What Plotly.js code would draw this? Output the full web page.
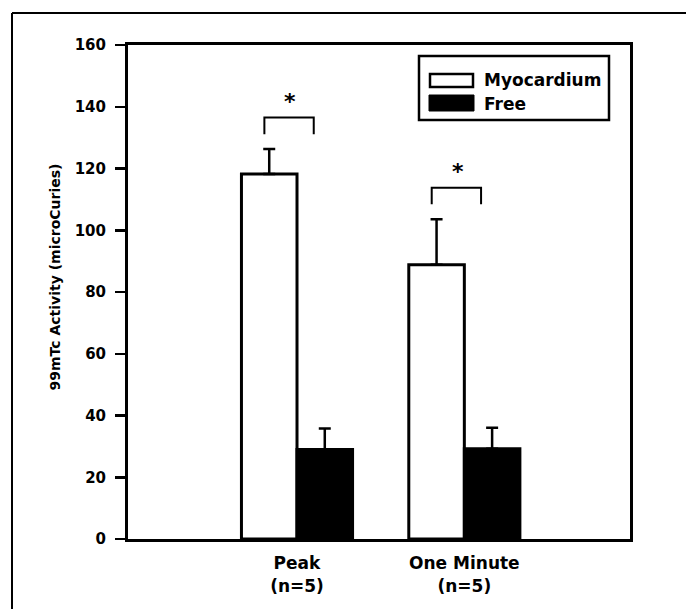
<!DOCTYPE html>
<html><head><meta charset="utf-8">
<script src="https://cdn.plot.ly/plotly-3.0.1.min.js"></script>
<style>html,body{margin:0;padding:0;background:#fff;overflow:hidden}#chart{width:686px;height:609px}</style>
</head><body><div id="chart"></div>
<script>
// ---- data ----
const categories = ['Peak<br>(n=5)', 'One Minute<br>(n=5)'];
const seriesNames = ['Myocardium', 'Free'];
const myocardium = [118.2, 88.8];
const myocardiumErr = [8.1, 14.8];
const free = [29.0, 29.2];
const freeErr = [6.8, 6.8];
const yTickVals = [0, 20, 40, 60, 80, 100, 120, 140, 160];
const yTitle = '99mTc Activity (microCuries)';
const sigMark = '*';

// ---- geometry helpers (layout only) ----
const M = {l: 128, r: 56, t: 45, b: 70};
const W = 686, H = 609;
const PW = W - M.l - M.r, PH = H - M.t - M.b;
const px = x => (x - M.l) / PW;
const py = y => (H - M.b - y) / PH;

const FONT = 'DejaVu Sans';
const black = '#000';

const traces = [
  {type: 'bar', name: seriesNames[0], x: categories, y: myocardium,
   marker: {color: '#fff', line: {color: black, width: 3}},
   error_y: {type: 'data', symmetric: false, array: myocardiumErr, arrayminus: myocardium.map(() => 0),
             color: black, thickness: 2.5, width: 6}},
  {type: 'bar', name: seriesNames[1], x: categories, y: free,
   marker: {color: black, line: {color: black, width: 3}},
   error_y: {type: 'data', symmetric: false, array: freeErr, arrayminus: free.map(() => 0),
             color: black, thickness: 2.5, width: 6}}
];

const shapes = [];
const annotations = [];

// significance brackets, placed relative to the myocardium error-bar tops
categories.forEach((c, i) => {
  const top = myocardium[i] + myocardiumErr[i];
  const x0 = i - 0.195, x1 = i + 0.10;
  shapes.push({type: 'path', xref: 'x', yref: 'y',
    path: `M ${x0} ${top + 4.8} L ${x0} ${top + 10.2} L ${x1} ${top + 10.2} L ${x1} ${top + 4.8}`,
    line: {color: black, width: 2}});
  annotations.push({xref: 'x', yref: 'y', x: i - 0.04, y: top + 15.5, text: sigMark, showarrow: false,
    xanchor: 'center', yanchor: 'middle', font: {family: FONT, size: 22, color: black, weight: 700}});
});

// legend drawn by hand
shapes.push({type: 'rect', xref: 'paper', yref: 'paper', x0: px(419), x1: px(609), y0: py(120), y1: py(56),
  line: {color: black, width: 2.5}, fillcolor: 'rgba(0,0,0,0)'});
shapes.push({type: 'rect', xref: 'paper', yref: 'paper', x0: px(430), x1: px(473), y0: py(87), y1: py(74),
  line: {color: black, width: 2.5}, fillcolor: '#fff'});
shapes.push({type: 'rect', xref: 'paper', yref: 'paper', x0: px(429), x1: px(474), y0: py(111), y1: py(95),
  line: {color: black, width: 1}, fillcolor: black});
annotations.push({xref: 'paper', yref: 'paper', x: px(482), y: py(80), text: seriesNames[0], showarrow: false,
  xanchor: 'left', yanchor: 'middle', font: {family: FONT, size: 17, color: black, weight: 700}});
annotations.push({xref: 'paper', yref: 'paper', x: px(482), y: py(103.5), text: seriesNames[1], showarrow: false,
  xanchor: 'left', yanchor: 'middle', font: {family: FONT, size: 17, color: black, weight: 700}});

// y-axis title
annotations.push({xref: 'paper', yref: 'paper', x: px(54), y: py(277.5), text: yTitle, showarrow: false,
  textangle: -90, xanchor: 'center', yanchor: 'middle', font: {family: FONT, size: 14, color: black, weight: 700}});

// outer figure frame (top and left edges visible)
shapes.push({type: 'line', xref: 'paper', yref: 'paper', x0: px(12), x1: px(700), y0: py(13), y1: py(13),
  line: {color: black, width: 2}});
shapes.push({type: 'line', xref: 'paper', yref: 'paper', x0: px(12), x1: px(12), y0: py(13), y1: py(620),
  line: {color: black, width: 2}});

const layout = {
  width: W, height: H, margin: M,
  paper_bgcolor: '#fff', plot_bgcolor: '#fff',
  showlegend: false,
  barmode: 'group', bargap: 0.336, bargroupgap: 0,
  font: {family: FONT, color: black},
  xaxis: {type: 'category', range: [-1.01, 1.99], showline: true, linewidth: 3, linecolor: black, mirror: true,
          ticks: '', showgrid: false, zeroline: false, fixedrange: true,
          tickfont: {family: FONT, size: 17, color: black, weight: 700}, ticklabelstandoff: 7},
  yaxis: {range: [0, 160], tickvals: yTickVals, ticktext: yTickVals.map(String), showline: true, linewidth: 3,
          linecolor: black, mirror: true, ticks: 'outside', ticklen: 10, tickwidth: 2.5, tickcolor: black,
          showgrid: false, zeroline: false, fixedrange: true,
          tickfont: {family: FONT, size: 15, color: black, weight: 700}, ticklabelstandoff: 6},
  shapes: shapes,
  annotations: annotations
};

Plotly.newPlot('chart', traces, layout, {displayModeBar: false, staticPlot: true});
</script>
</body></html>
